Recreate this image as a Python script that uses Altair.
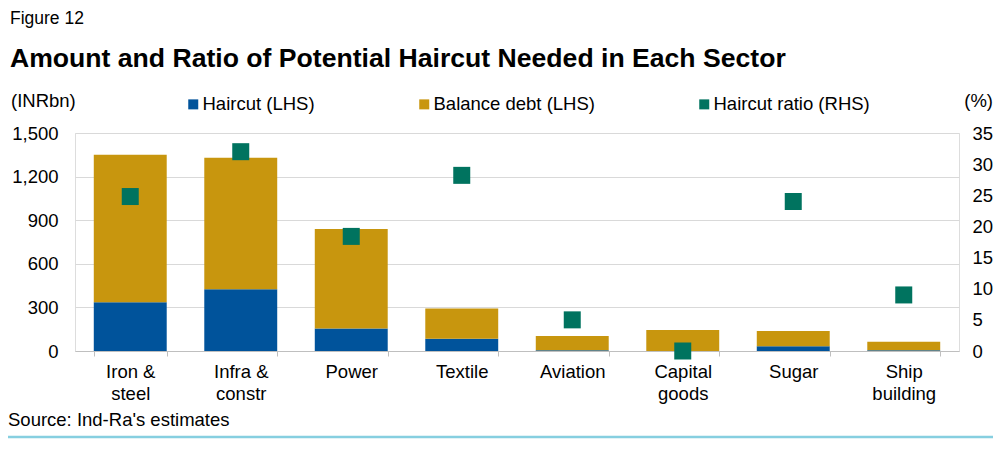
import altair as alt
import pandas as pd

# ---- data ----
sectors = ["Iron & steel", "Infra & constr", "Power", "Textile",
           "Aviation", "Capital goods", "Sugar", "Ship building"]
haircut = [335, 425, 154, 85, 5, 0, 32, 6]          # INRbn (LHS)
balance = [1015, 905, 686, 207, 99, 145, 106, 58]   # INRbn (LHS)
ratio = [24.8, 32.0, 18.4, 28.2, 5.0, 0.0, 24.0, 9.0]  # % (RHS)
series = ["Haircut (LHS)", "Balance debt (LHS)", "Haircut ratio (RHS)"]
colors = ["#00539B", "#C8960E", "#00735F"]
left_ticks = [0, 300, 600, 900, 1200, 1500]
right_ticks = [0, 5, 10, 15, 20, 25, 30, 35]

FONT = "Liberation Sans"
FS = 18.5

bars_df = pd.DataFrame({
    "sector": sectors * 2,
    "series": [series[0]] * len(sectors) + [series[1]] * len(sectors),
    "value": haircut + balance,
    "order": [0] * len(sectors) + [1] * len(sectors),
})
ratio_df = pd.DataFrame({"sector": sectors, "series": series[2], "ratio": ratio})

legend = alt.Legend(
    orient="none", legendX=109, legendY=-38, direction="horizontal",
    title=None, symbolType="square", symbolSize=100, symbolStrokeWidth=0,
    labelFontSize=FS, labelColor="#000000", labelFont=FONT, labelLimit=400,
    columnPadding=100, labelOffset=0, padding=0,
)
color = alt.Color("series:N", scale=alt.Scale(domain=series, range=colors), legend=legend)

label_expr = ("indexof(datum.label, ' ') < 0 ? datum.label : "
              "[substring(datum.label, 0, lastindexof(datum.label, ' ')), "
              "substring(datum.label, lastindexof(datum.label, ' ') + 1)]")

x = alt.X(
    "sector:N", sort=sectors,
    scale=alt.Scale(paddingInner=0.34, paddingOuter=0.17),
    axis=alt.Axis(title=None, labelAngle=0, labelFontSize=FS, labelColor="#000000",
                  labelLineHeight=22, tickBand="extent", tickSize=5,
                  tickColor="#bfbfbf", domainColor="#bfbfbf", labelPadding=6,
                  grid=False, labelExpr=label_expr, labelFont=FONT),
)

bars = alt.Chart(bars_df).mark_bar().encode(
    x=x,
    y=alt.Y("value:Q", stack="zero",
            scale=alt.Scale(domain=[0, 1500], nice=False),
            axis=alt.Axis(title=None, values=left_ticks, format=",.0f",
                          labelFontSize=FS, labelColor="#000000", labelFont=FONT,
                          ticks=False, domain=False, gridColor="#d9d9d9",
                          labelPadding=17)),
    color=color,
    order=alt.Order("order:Q", sort="ascending"),
)

squares = alt.Chart(ratio_df).mark_square(size=289, opacity=1, filled=True).encode(
    x=x,
    y=alt.Y("ratio:Q", scale=alt.Scale(domain=[0, 35], nice=False),
            axis=alt.Axis(title=None, orient="right", values=right_ticks,
                          labelFontSize=FS, labelColor="#000000", labelFont=FONT,
                          ticks=False, domain=False, grid=False,
                          labelPadding=13, labelAlign="left")),
    color=color,
)


def txt(s, xv, yv, size=FS, weight="normal", align="left"):
    return alt.Chart(pd.DataFrame({"t": [s]})).mark_text(
        font=FONT, fontSize=size, fontWeight=weight, align=align,
        baseline="alphabetic", color="#000000",
    ).encode(x=alt.value(xv), y=alt.value(yv), text="t:N")


fig_lbl = txt("Figure 12", -65, -109, size=17.5)
title = txt("Amount and Ratio of Potential Haircut Needed in Each Sector", -65, -66,
            size=26.6, weight="bold")
unit_l = txt("(INRbn)", -64, -26)
unit_r = txt("(%)", 918, -26, align="right")
source = txt("Source: Ind-Ra's estimates", -67, 293)
line = alt.Chart(pd.DataFrame({"k": [0]})).mark_rule(
    color="#86cfe0", strokeWidth=2.5
).encode(x=alt.value(-75), x2=alt.value(926), y=alt.value(304))

chart = alt.layer(bars, squares, fig_lbl, title, unit_l, unit_r, source, line).resolve_scale(
    y="independent"
).properties(
    width=884, height=218,
    autosize=alt.AutoSizeParams(type="none"),
    padding={"left": 67, "top": 125, "right": 34, "bottom": 91},
).configure_view(stroke=None).configure(font=FONT)

chart.save("out.html", embed_options={"renderer": "svg", "actions": False})
